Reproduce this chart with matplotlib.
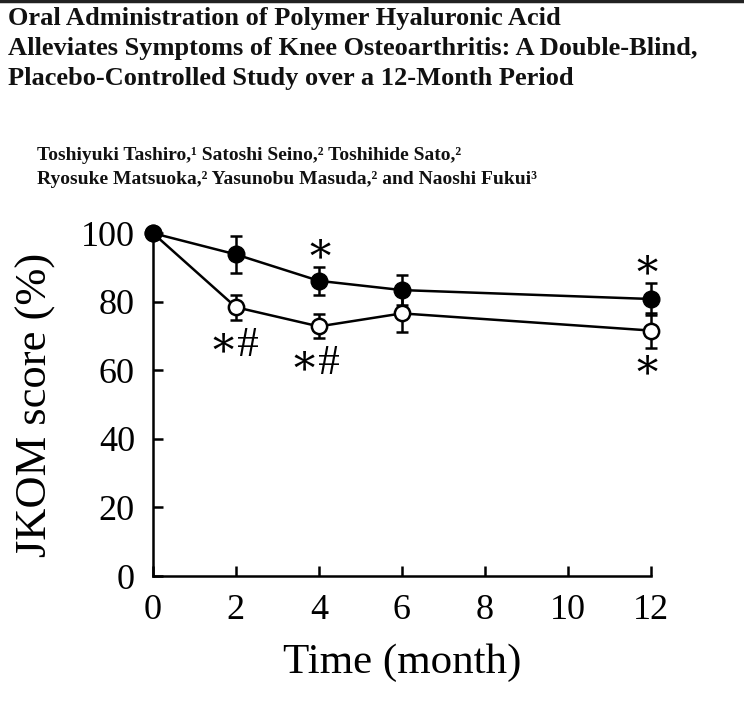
import matplotlib
matplotlib.use("Agg")
import matplotlib.pyplot as plt
from matplotlib.lines import Line2D

# data
months = [0, 2, 4, 6, 12]
ha_mean = [100, 93.8, 86.1, 83.4, 80.8]       # filled circles
ha_err = [0, 5.3, 4.0, 4.4, 4.7]
placebo_mean = [100, 78.4, 72.8, 76.6, 71.6]  # open circles
placebo_err = [0, 3.7, 3.5, 5.3, 5.0]

# significance marks (x, y, text)
marks = [(4.04, 94.8, "\u2217"), (11.92, 90.2, "\u2217"),
         (1.94, 67.2, "\u2217#"), (3.91, 61.9, "\u2217#"), (11.92, 61.0, "\u2217")]

title_lines = ["Oral Administration of Polymer Hyaluronic Acid",
               "Alleviates Symptoms of Knee Osteoarthritis: A Double-Blind,",
               "Placebo-Controlled Study over a 12-Month Period"]
author_lines = ["Toshiyuki Tashiro,\u00b9 Satoshi Seino,\u00b2 Toshihide Sato,\u00b2",
                "Ryosuke Matsuoka,\u00b2 Yasunobu Masuda,\u00b2 and Naoshi Fukui\u00b3"]

serif = ["Liberation Serif", "DejaVu Serif"]
plt.rcParams["font.family"] = serif

fig = plt.figure(figsize=(7.44, 7.04), dpi=100)
fig.add_artist(Line2D([0, 1], [0.998, 0.998], color="#222222", lw=2.5,
                      transform=fig.transFigure))

for i, line in enumerate(title_lines):
    fig.text(0.011, 0.974 - i * 0.0425, line, fontsize=19, fontweight="bold",
             va="center", ha="left", color="#111111")
for i, line in enumerate(author_lines):
    fig.text(0.05, 0.779 - i * 0.034, line, fontsize=14, fontweight="bold",
             va="center", ha="left", color="#111111")

ax = fig.add_axes([0.2056, 0.1818, 0.669, 0.487])

ax.errorbar(months, placebo_mean, yerr=placebo_err, color="black", lw=1.8,
            marker="o", markersize=11, markerfacecolor="white",
            markeredgecolor="black", markeredgewidth=1.8,
            capsize=4.5, capthick=1.8, elinewidth=1.8, clip_on=False, zorder=3)
ax.errorbar(months, ha_mean, yerr=ha_err, color="black", lw=1.8,
            marker="o", markersize=12, markerfacecolor="black",
            markeredgecolor="black", capsize=4.5, capthick=1.8,
            elinewidth=1.8, clip_on=False, zorder=4)

for x, y, s in marks:
    ax.text(x, y, s, fontsize=31, ha="center", va="center", family=serif)

ax.set_xlim(0, 12)
ax.set_ylim(0, 100)
ax.set_xticks(range(0, 13, 2))
ax.set_yticks(range(0, 101, 20))
ax.spines["top"].set_visible(False)
ax.spines["right"].set_visible(False)
for sp in ("left", "bottom"):
    ax.spines[sp].set_linewidth(1.8)
ax.tick_params(direction="in", length=7, width=1.8, labelsize=26, pad=13)
ax.set_xlabel("Time (month)", fontsize=31, labelpad=12)
ax.set_ylabel("JKOM score (%)", fontsize=32, labelpad=18)

fig.savefig("out.png", dpi=100)
